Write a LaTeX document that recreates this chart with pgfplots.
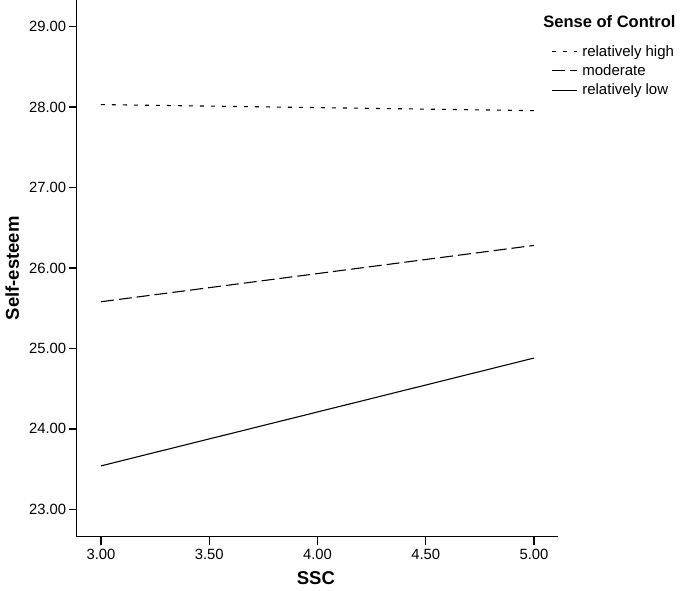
\documentclass[border=0pt]{standalone}
\usepackage{pgfplots}
\pgfplotsset{compat=1.18}
\usepackage{fontspec}
\setmainfont{Liberation Sans}

\begin{document}
\begin{tikzpicture}
\useasboundingbox (-76.7pt,-54.3pt) rectangle (608.3pt,536.7pt);
\begin{axis}[
  scale only axis,
  width=481.3pt,height=536.7pt,
  xmin=2.888,xmax=5.111,
  ymin=22.66,ymax=29.33,
  axis x line=bottom,axis y line=left,
  axis line style={-,line width=1.3pt},
  tick style={line width=1.3pt,black},
  tick align=outside,
  major tick length=8pt,
  xtick={3,3.5,4,4.5,5},
  ytick={23,24,25,26,27,28,29},
  minor tick num=0,
  xticklabel={\scalebox{0.78}{\pgfmathprintnumber[fixed,fixed zerofill,precision=2,assume math mode=true]{\tick}}},
  yticklabel={\scalebox{0.78}{\pgfmathprintnumber[fixed,fixed zerofill,precision=2,assume math mode=true]{\tick}}},
  xticklabel style={font=\fontsize{19}{22}\selectfont,yshift=-1pt},
  yticklabel style={font=\fontsize{19}{22}\selectfont,xshift=1pt},
  xlabel={\textbf{SSC}},
  ylabel={\textbf{Self-esteem}},
  label style={font=\fontsize{18.5}{22}\selectfont},
  xlabel style={at={(axis description cs:0.497,-0.077)},anchor=center},
  ylabel style={at={(axis description cs:-0.134,0.5)},anchor=center,rotate=0},
  legend style={at={(axis description cs:0.9855,0.918)},anchor=north west,
    draw=none,fill=none,inner sep=0pt,
    font=\fontsize{15}{18}\selectfont,
    nodes={inner sep=1pt},row sep=5pt,
    /tikz/every odd column/.style={column sep=4pt}},
  legend cell align=left,
  legend image code/.code={\draw[#1,line width=1.1pt] (0pt,0pt) -- (25pt,0pt);},
  clip=false,
]
\addplot[black,line width=1.1pt,dash pattern=on 4pt off 7pt] coordinates {(3,28.03) (5,27.955)};
\addlegendentry{relatively high}
\addplot[black,line width=1.1pt,dash pattern=on 13pt off 5pt] coordinates {(3,25.58) (5,26.28)};
\addlegendentry{moderate}
\addplot[black,line width=1.1pt] coordinates {(3,23.54) (5,24.88)};
\addlegendentry{relatively low}
\node[anchor=west,inner sep=0pt,font=\fontsize{16.5}{19}\selectfont\bfseries]
  at (axis description cs:0.9694,0.959) {Sense of Control};
\end{axis}
\end{tikzpicture}
\end{document}
